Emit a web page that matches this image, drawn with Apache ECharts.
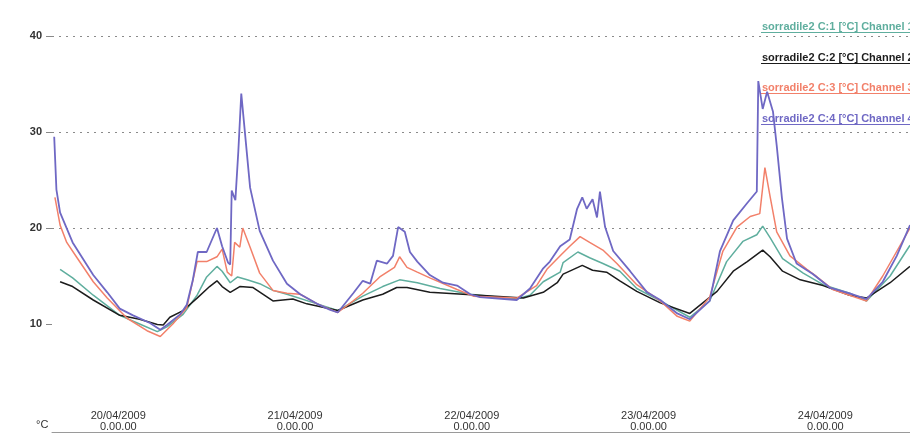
<!DOCTYPE html>
<html>
<head>
<meta charset="utf-8">
<script src="https://cdn.jsdelivr.net/npm/echarts@6/dist/echarts.min.js"></script>
<style>html,body{margin:0;padding:0;background:#fff}#c{width:910px;height:438px}</style>
</head>
<body>
<div id="c"></div>
<script>
// Hours relative to 20/04/2009 0.00.00, temperatures in °C
const seriesNames = ["sorradile2 C:1 [°C] Channel 1","sorradile2 C:2 [°C] Channel 2","sorradile2 C:3 [°C] Channel 3","sorradile2 C:4 [°C] Channel 4"];
const seriesColors = ["#5fae9e","#1c1c1c","#f2806a","#6f68c4"];
const dayTicks = [0,24,48,72,96];
const dayLabels = ["20/04/2009","21/04/2009","22/04/2009","23/04/2009","24/04/2009"];
const yTicks = [10,20,30,40];

const c1Hours = [-7.9,-6.2,-3.4,0.2,2.9,5.3,6.6,8.8,10.7,12.0,13.4,14.1,15.2,16.2,17.5,19.2,21.0,22.9,27.0,29.8,33.2,35.9,38.2,40.6,43.7,47.8,54.1,55.9,57.7,60.0,60.4,62.4,64.0,65.8,68.1,70.4,73.6,77.6,80.3,82.6,84.8,86.7,87.5,88.5,90.2,93.0,95.7,99.3,101.6,104.8,107.5];
const c1Temps = [15.7,14.8,13.0,10.9,10.0,9.2,9.7,11.0,13.0,14.9,16.0,15.5,14.3,14.9,14.6,14.2,13.5,13.1,12.1,11.4,12.9,13.9,14.6,14.3,13.7,13.1,12.6,13.0,14.4,15.4,16.4,17.5,16.9,16.3,15.5,13.7,12.4,10.7,12.4,16.5,18.6,19.3,20.2,19.0,16.8,15.3,14.1,13.2,12.4,15.0,18.2];

const c2Hours = [-7.9,-6.2,-3.4,0.2,2.9,5.3,6.1,7.0,8.8,10.7,12.4,13.4,14.1,15.2,16.5,18.3,21.0,23.7,25.6,29.8,33.2,35.9,37.8,39.2,42.3,46.8,55.0,57.7,59.6,60.4,63.0,64.4,66.3,68.1,70.4,73.6,77.6,81.3,83.5,85.4,87.5,88.5,90.2,92.6,95.7,99.3,101.6,104.8,107.5];
const c2Temps = [14.4,13.9,12.5,10.9,10.5,9.95,9.9,10.7,11.4,12.7,13.9,14.5,13.9,13.3,13.9,13.8,12.4,12.6,12.1,11.4,12.5,13.1,13.8,13.8,13.3,13.1,12.7,13.3,14.3,15.2,16.1,15.6,15.4,14.5,13.4,12.2,11.1,13.4,15.5,16.5,17.7,17.0,15.5,14.6,14.0,13.0,12.7,14.3,16.0];

const c3Hours = [-8.6,-7.9,-7.0,-5.6,-3.4,-1.5,1.2,3.9,5.7,7.4,9.3,10.7,12.0,13.4,14.1,14.8,15.4,15.8,16.5,16.9,17.9,19.2,21.0,22.9,24.7,27.0,29.8,31.9,33.2,35.5,37.5,38.2,39.2,40.6,42.3,46.0,48.2,54.1,56.8,58.2,60.0,61.3,62.7,64.0,65.8,67.7,70.4,73.6,75.9,77.6,80.3,82.1,84.0,85.8,87.1,87.8,88.5,89.4,91.2,93.5,94.9,97.0,101.6,103.8,107.5];
const c3Temps = [23.2,20.3,18.5,16.9,14.4,12.7,10.6,9.3,8.7,10.0,11.7,16.5,16.5,17.0,17.8,15.4,15.0,18.5,18.0,20.0,18.0,15.3,13.5,13.2,13.1,12.1,11.2,12.4,13.2,14.9,15.9,17.0,15.9,15.4,14.8,13.6,12.9,12.7,14.0,15.7,17.1,18.1,19.1,18.5,17.7,16.3,14.1,12.4,10.8,10.3,12.8,17.6,20.1,21.2,21.5,26.3,23.3,19.6,17.1,15.7,14.9,13.6,12.4,15.0,20.0];

const c4Hours = [-8.7,-8.4,-7.9,-6.2,-4.8,-3.4,-1.5,0.2,2.0,4.3,5.7,6.6,8.4,9.3,10.1,10.8,12.0,13.4,14.1,14.9,15.2,15.4,15.9,16.3,16.7,17.9,19.2,21.0,22.9,24.7,27.0,28.7,29.8,31.9,33.2,34.2,35.1,36.5,37.3,38.0,38.9,39.6,40.6,42.3,44.1,46.0,47.8,49.1,54.1,55.9,57.7,58.6,60.0,61.3,62.3,63.0,63.6,64.4,65.0,65.4,66.1,67.2,69.5,71.8,73.6,75.9,77.6,80.3,81.7,83.5,85.4,86.7,86.9,87.5,88.1,88.9,89.4,90.1,90.8,92.1,94.3,96.6,99.3,101.6,103.8,105.7,107.5];
const c4Temps = [29.5,24.0,21.6,18.5,16.8,15.1,13.3,11.6,10.9,10.1,9.4,9.9,11.0,12.0,14.5,17.5,17.5,20.0,18.1,16.4,16.2,23.9,22.9,28.0,34.0,24.2,19.7,16.6,14.2,13.1,12.1,11.5,11.2,13.2,14.5,14.2,16.6,16.3,17.1,20.1,19.6,17.5,16.5,15.1,14.3,14.0,13.1,12.8,12.5,13.7,15.8,16.5,18.1,18.8,22.0,23.2,22.0,23.0,21.1,23.8,20.1,17.6,15.5,13.3,12.5,11.1,10.5,12.4,17.6,20.8,22.6,23.8,35.3,32.4,34.2,32.1,28.6,23.2,18.9,16.3,15.2,13.8,13.2,12.6,14.4,17.1,20.3];

const allHours = [c1Hours,c2Hours,c3Hours,c4Hours];
const allTemps = [c1Temps,c2Temps,c3Temps,c4Temps];

function zip(h,t){const n=Math.min(h.length,t.length);const o=[];for(let i=0;i<n;i++)o.push([h[i],t[i]]);return o;}

const FONT = '"Liberation Sans Narrow","Liberation Sans",Arial,sans-serif';
const chart = echarts.init(document.getElementById('c'), null, {renderer:'canvas'});

const underlines = seriesNames.map((n,i)=>{
  const y = Math.round(32 + 30.7*i) + 0.5;
  return {type:'line', silent:true, shape:{x1:761,y1:y,x2:910,y2:y},
    style:{stroke:seriesColors[i],lineWidth:1}};
});

chart.setOption({
  animation:false,
  backgroundColor:'#ffffff',
  grid:{left:52,right:0,top:36,bottom:18,containLabel:false},
  legend:{
    orient:'vertical', left:752, top:15, itemGap:18,
    icon:'none', itemWidth:0, itemHeight:14,
    data:seriesNames.map((n,i)=>({name:n,textStyle:{color:seriesColors[i]}})),
    textStyle:{fontFamily:FONT,fontSize:11,fontWeight:'bold',padding:0},
    selectedMode:false
  },
  xAxis:{
    type:'value', min:-9, max:107.5, offset:12,
    axisLine:{show:true,onZero:false,lineStyle:{color:'#9a9a9a',width:1}},
    axisTick:{show:false},
    splitLine:{show:false},
    axisLabel:{
      inside:true, margin:0, customValues:dayTicks,
      fontFamily:FONT, fontSize:11, color:'#333', lineHeight:11,
      formatter:function(v){const i=dayTicks.indexOf(v);return i<0?'':dayLabels[i]+'\n0.00.00';}
    }
  },
  yAxis:{
    type:'value', min:0, max:40, interval:10,
    axisLine:{show:false,onZero:false},
    axisTick:{show:true,length:6,customValues:yTicks,lineStyle:{color:'#888'}},
    splitLine:{show:true,showMinLine:false,lineStyle:{color:'#8a8a8a',type:[2,5],width:1}},
    axisLabel:{margin:10,fontFamily:FONT,fontSize:11,fontWeight:'bold',color:'#333',
      formatter:function(v){return yTicks.indexOf(v)<0?'':String(v);}}
  },
  graphic:[
    {type:'text',left:36,top:419,style:{text:'°C',font:'11px '+FONT,fill:'#333'}}
  ].concat(underlines),
  series:seriesNames.map((n,i)=>({
    name:n, type:'line', data:zip(allHours[i],allTemps[i]),
    showSymbol:false, smooth:false,
    lineStyle:{color:seriesColors[i],width:i===3?1.8:1.5},
    itemStyle:{color:seriesColors[i]}
  }))
});
</script>
</body>
</html>
